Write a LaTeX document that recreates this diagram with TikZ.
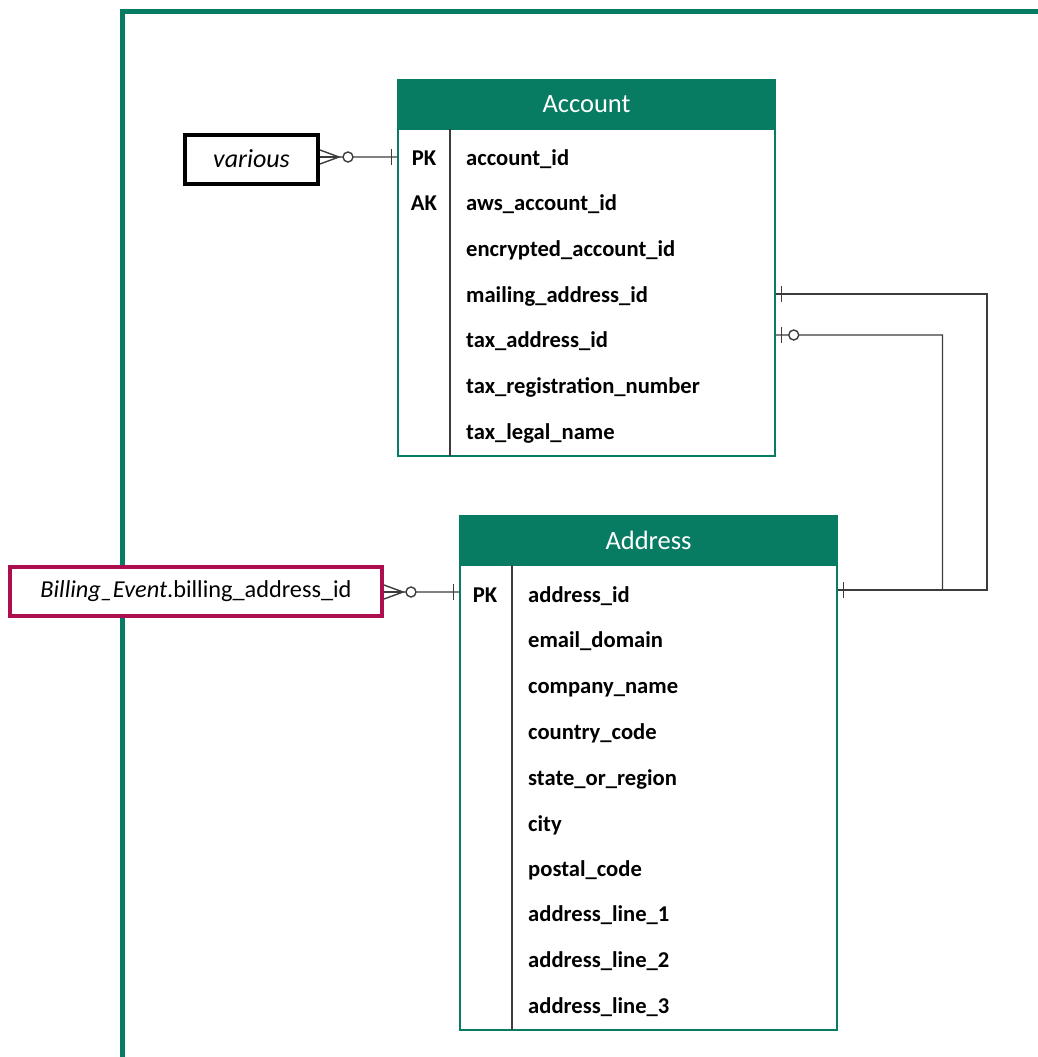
\documentclass[tikz,border=0pt]{standalone}
\usepackage{fontspec}
\setmainfont{Carlito}
\definecolor{erdgreen}{RGB}{8,124,99}
\definecolor{erdred}{RGB}{172,14,78}
\definecolor{erdline}{RGB}{60,60,60}

\begin{document}
\begin{tikzpicture}[x=1pt,y=1pt,yscale=-1,
	head/.style={draw=erdgreen,fill=erdgreen,line width=1.5,text=white,minimum width=377,minimum height=49,inner sep=0pt,font=\fontsize{26.5}{30}\selectfont},
	body/.style={draw=erdgreen,line width=1.5,minimum width=377,inner sep=0pt},
	field/.style={anchor=west,inner sep=0pt,text height=17,text depth=2,font=\fontsize{22.6}{26}\selectfont\bfseries},
	key/.style={inner sep=0pt,text height=17,text depth=2,font=\fontsize{22.6}{26}\selectfont\bfseries},
	rel/.style={draw=erdline,line width=1.4},
	ref/.style={draw,fill=white,line width=4,inner sep=0pt,minimum height=49}]
	\useasboundingbox (0,0) rectangle (1037,1057);

	%Shape: Frame
	\draw [erdgreen,line width=5] (122,1060) -- (122,12) -- (1040,12);

	%Shape: Account table
	\node [head] (acct-head) at (586.5,104.5) {Account};
	\node [body,minimum height=327] (acct-body) at (586.5,292.5) {};
	\draw [erdline,line width=1.2] (450,129) -- (450,456);
	\node [key] (acct-pk) at (424,158) {PK};
	\node [key] (acct-ak) at (424,203) {AK};
	\node [field] (acct-id) at (466,158) {account\_id};
	\node [field] (acct-aws) at (466,203) {aws\_account\_id};
	\node [field] (acct-enc) at (466,249) {encrypted\_account\_id};
	\node [field] (acct-mail) at (466,295) {mailing\_address\_id};
	\node [field] (acct-tax) at (466,340) {tax\_address\_id};
	\node [field] (acct-reg) at (466,386) {tax\_registration\_number};
	\node [field] (acct-legal) at (466,432) {tax\_legal\_name};

	%Shape: Address table
	\node [head] (addr-head) at (648.5,540.5) {Address};
	\node [body,minimum height=465] (addr-body) at (648.5,797.5) {};
	\draw [erdline,line width=1.2] (512,565) -- (512,1030);
	\node [key] (addr-pk) at (485,595) {PK};
	\node [field] (addr-id) at (528,595) {address\_id};
	\node [field] (addr-mail) at (528,640) {email\_domain};
	\node [field] (addr-comp) at (528,686) {company\_name};
	\node [field] (addr-ctry) at (528,732) {country\_code};
	\node [field] (addr-state) at (528,778) {state\_or\_region};
	\node [field] (addr-city) at (528,824) {city};
	\node [field] (addr-post) at (528,869) {postal\_code};
	\node [field] (addr-l1) at (528,914) {address\_line\_1};
	\node [field] (addr-l2) at (528,960) {address\_line\_2};
	\node [field] (addr-l3) at (528,1006) {address\_line\_3};

	%Shape: Referencing entities
	\node [ref,minimum width=133,font=\fontsize{26}{30}\selectfont] (various) at (251.5,159) {\itshape various};
	\node [ref,draw=erdred,minimum width=372,font=\fontsize{24.3}{28}\selectfont] (billing) at (196,591) {\textit{Billing\_Event}.billing\_address\_id};

	%Straight Lines: various -> account_id
	\coordinate (v-a) at (acct-body.west |- 0,157);
	\draw [rel] (various.east |- v-a) ++(0,-7) -- ++(19,7) -- ++(-19,7);
	\draw [rel] (various.east |- v-a) -- ++(19,0);
	\draw [rel] (various.east |- v-a) ++(19,0) -- ++(4,0) ++(5,0) circle (5) ++(5,0) -- (v-a);
	\draw [rel] (v-a) ++(-6,-8) -- ++(0,16);

	%Straight Lines: billing -> address_id
	\coordinate (b-a) at (addr-body.west |- 0,592);
	\draw [rel] (billing.east |- b-a) ++(0,-7) -- ++(19,7) -- ++(-19,7);
	\draw [rel] (billing.east |- b-a) -- ++(19,0);
	\draw [rel] (billing.east |- b-a) ++(19,0) -- ++(3,0) ++(5,0) circle (5) ++(5,0) -- (b-a);
	\draw [rel] (b-a) ++(-6,-8) -- ++(0,16);

	%Straight Lines: mailing_address_id -> address_id
	\coordinate (m-a) at (acct-body.east |- 0,294);
	\coordinate (m-b) at (addr-body.east |- 0,590);
	\draw [rel] (m-a) -- (987,294) -- (987,590) -- (m-b);
	\draw [rel] (m-a) ++(6,-8) -- ++(0,16);
	\draw [rel] (m-b) ++(6,-8) -- ++(0,16);

	%Straight Lines: tax_address_id -> address_id
	\coordinate (t-a) at (acct-body.east |- 0,335);
	\draw [rel] (t-a) -- ++(13,0) ++(5,0) circle (5) ++(5,0) -- (942.5,335) -- (942.5,590);
	\draw [rel] (t-a) ++(6,-8) -- ++(0,16);
\end{tikzpicture}
\end{document}
